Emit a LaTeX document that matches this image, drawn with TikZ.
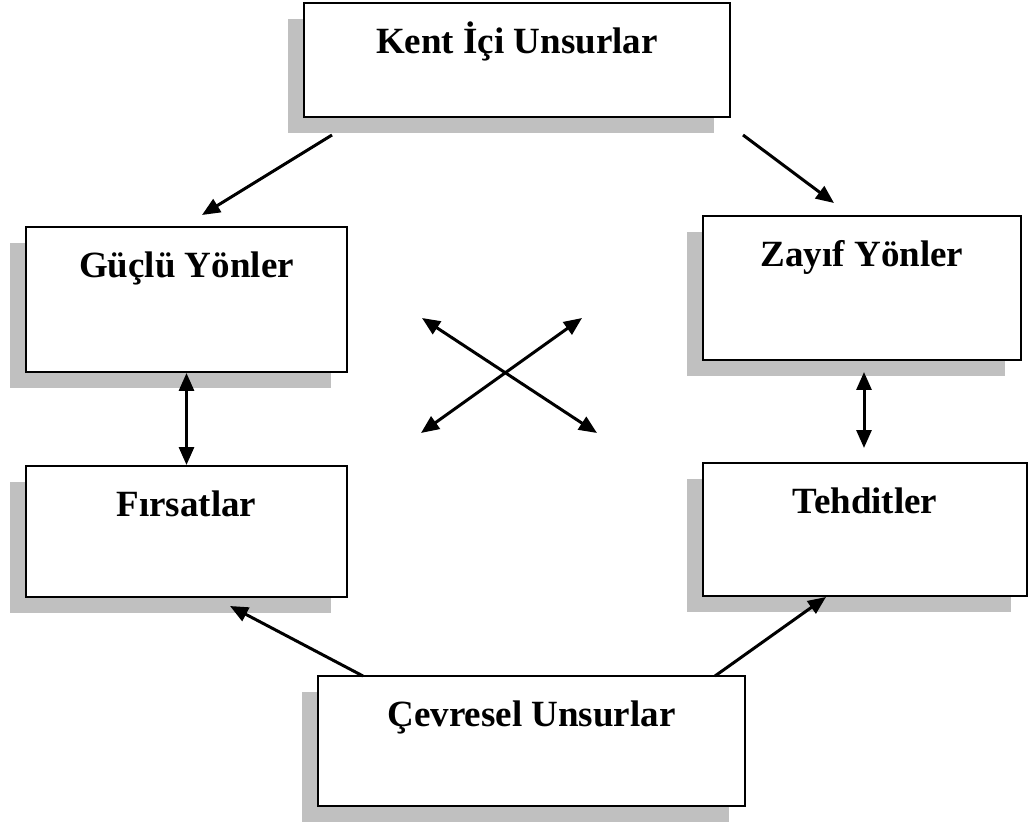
\documentclass[tikz,border=0pt]{standalone}
\usepackage{fontspec}
\usepackage{tikz}
\usetikzlibrary{arrows.meta,shadows}
\newfontfamily\boxfont{Liberation Serif}
\definecolor{swot_shadow}{RGB}{192, 192, 192}
\tikzstyle{box}=[rectangle,fill=white,draw=black,line width=1pt,inner sep=0pt,
  drop shadow={shadow xshift=-8pt,shadow yshift=-8pt,fill=swot_shadow,opacity=1}]
\tikzstyle{lbl}=[anchor=north,yshift=-13.5pt,inner sep=0pt,text height=12.2pt,
  font={\boxfont\bfseries\fontsize{18.5pt}{22pt}\selectfont}]
\tikzstyle{arr}=[-{Triangle[length=9pt,width=7.5pt]},line width=1.5pt]
\tikzstyle{darr}=[{Triangle[length=9pt,width=7.5pt]}-{Triangle[length=9pt,width=7.5pt]},line width=1.5pt]
\tikzstyle{none}=[inner sep=0pt]
\begin{document}
\begin{tikzpicture}[x=0.5pt, y=-0.5pt]
            \useasboundingbox (0, 0) rectangle (1030, 824);
            \node [style=box, minimum width=213pt, minimum height=57pt,
              label={[lbl]north:Kent İçi Unsurlar}] (0) at (517, 60) {};
            \node [style=box, minimum width=160.5pt, minimum height=72.5pt,
              label={[lbl]north:Güçlü Yönler}] (1) at (186.5, 299.5) {};
            \node [style=box, minimum width=159pt, minimum height=72pt,
              label={[lbl]north:Zayıf Yönler}] (2) at (862, 288) {};
            \node [style=box, minimum width=160.5pt, minimum height=65.5pt,
              label={[lbl]north:Fırsatlar}] (3) at (186.5, 531.5) {};
            \node [style=box, minimum width=162pt, minimum height=66.5pt,
              label={[lbl]north:Tehditler}] (4) at (865, 529.5) {};
            \node [style=box, minimum width=213.5pt, minimum height=65pt,
              label={[lbl]north:Çevresel Unsurlar}] (5) at (531.5, 741) {};
            \node [style=none] (6) at (332, 135) {};
            \node [style=none] (7) at (202, 215) {};
            \node [style=none] (8) at (743, 135) {};
            \node [style=none] (9) at (834, 203) {};
            \node [style=none] (10) at (363, 676) {};
            \node [style=none] (11) at (230, 606) {};
            \node [style=none] (12) at (715, 676) {};
            \node [style=none] (13) at (826, 597) {};
            \node [style=none] (14) at (422, 318) {};
            \node [style=none] (15) at (597, 433) {};
            \node [style=none] (16) at (421, 433) {};
            \node [style=none] (17) at (582, 318) {};
            \node [style=none] (18) at (864, 372) {};
            \node [style=none] (19) at (864, 448) {};
            \draw [style=arr] (6.center) to (7.center);
            \draw [style=arr] (8.center) to (9.center);
            \draw [style=arr] (10.center) to (11.center);
            \draw [style=arr] (12.center) to (13.center);
            \draw [style=darr] (14.center) to (15.center);
            \draw [style=darr] (16.center) to (17.center);
            \draw [style=darr] (1) to (3);
            \draw [style=darr] (18.center) to (19.center);
    \end{tikzpicture}
\end{document}
